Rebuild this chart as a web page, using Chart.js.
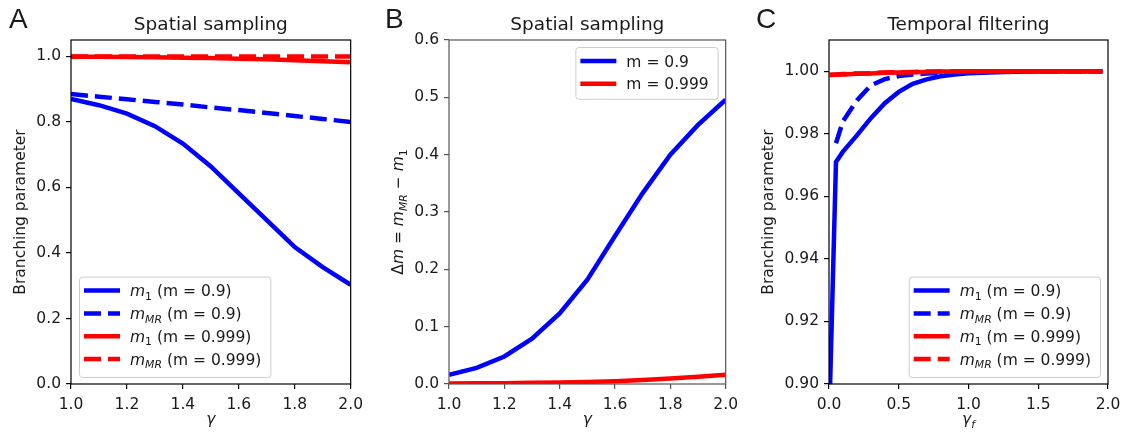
<!DOCTYPE html>
<html>
<head>
<meta charset="utf-8">
<script src="https://cdn.jsdelivr.net/npm/chart.js@4.4.1/dist/chart.umd.min.js"></script>
<style>
  body { margin: 0; background: #fff; width: 1128px; height: 434px; position: relative; overflow: hidden; }
  canvas { position: absolute; top: 0; }
</style>
</head>
<body>
<canvas id="chartA" width="370" height="434" style="left:0px"></canvas>
<canvas id="chartB" width="370" height="434" style="left:375px"></canvas>
<canvas id="chartC" width="378" height="434" style="left:750px"></canvas>
<script>
// Panel A / B: spatial sampling vs gamma
const gamma = [1.0, 1.1, 1.2, 1.3, 1.4, 1.5, 1.6, 1.7, 1.8, 1.9, 2.0];
const m1Low = [0.870, 0.851, 0.825, 0.787, 0.734, 0.664, 0.582, 0.500, 0.418, 0.357, 0.303];
const mmrLow = [0.885, 0.877, 0.869, 0.861, 0.853, 0.844, 0.836, 0.827, 0.818, 0.809, 0.800];
const m1High = [0.999, 0.999, 0.998, 0.997, 0.996, 0.995, 0.993, 0.991, 0.988, 0.985, 0.982];
const mmrHigh = [0.9995, 0.9995, 0.9995, 0.9995, 0.9995, 0.9995, 0.9995, 0.9995, 0.9995, 0.9995, 0.9995];
const deltaLow = [0.016, 0.028, 0.048, 0.079, 0.123, 0.182, 0.258, 0.333, 0.400, 0.452, 0.496];
const deltaHigh = [0.001, 0.0012, 0.0015, 0.002, 0.0027, 0.0036, 0.005, 0.007, 0.0095, 0.0125, 0.016];

// Panel C: temporal filtering vs gamma_f
const gammaF = [0.005, 0.05, 0.1, 0.2, 0.3, 0.4, 0.5, 0.6, 0.7, 0.8, 0.9, 1.0, 1.2, 1.4, 1.6, 1.8, 1.96];
const m1LowF = [0.895, 0.971, 0.9743, 0.9795, 0.985, 0.9898, 0.9934, 0.996, 0.9974, 0.9984, 0.999, 0.9994, 0.9997, 0.9999, 1.0, 1.0, 1.0];
const mmrLowF = [null, 0.977, 0.984, 0.9907, 0.9955, 0.9975, 0.9985, 0.999, 0.9993, 0.9995, 0.9997, 0.9998, 0.9999, 1.0, 1.0, 1.0, 1.0];
const m1HighF = [0.9988, 0.9989, 0.999, 0.9992, 0.9993, 0.9995, 0.9996, 0.9997, 0.9998, 0.9999, 0.9999, 1.0, 1.0, 1.0, 1.0, 1.0, 1.0];
const mmrHighF = [0.9989, 0.999, 0.9991, 0.9993, 0.9994, 0.9996, 0.9997, 0.9998, 0.9999, 0.9999, 1.0, 1.0, 1.0, 1.0, 1.0, 1.0, 1.0];

const FONT = '"DejaVu Sans", sans-serif';
const TXT = '#1a1a1a';
const BLUE = '#0000ff';
const RED = '#ff0000';
const DASH = [17, 7];
const FS = 15.5;

function pts(xs, ys) {
  return xs.map((x, i) => ({ x, y: ys[i] }));
}

// texto con cursiva y subíndices
function partFont(p, size) {
  const s = p.sub ? size * 0.7 : size;
  return (p.it ? 'italic ' : '') + s + 'px ' + FONT;
}
function richWidth(ctx, parts, size) {
  let w = 0;
  for (const p of parts) { ctx.font = partFont(p, size); w += ctx.measureText(p.t).width; }
  return w;
}
function drawRich(ctx, parts, x, y, size, align) {
  const w = richWidth(ctx, parts, size);
  let cx = align === 'center' ? x - w / 2 : x;
  ctx.textAlign = 'left';
  ctx.textBaseline = 'alphabetic';
  for (const p of parts) {
    ctx.font = partFont(p, size);
    ctx.fillText(p.t, cx, y + (p.sub ? size * 0.24 : 0));
    cx += ctx.measureText(p.t).width;
  }
}
function parseLabel(label) {
  const m = label.match(/^m_(\w+)(.*)$/);
  if (!m) return [{ t: label }];
  return [{ t: 'm', it: true }, { t: m[1], sub: true, it: m[1] !== '1' }, { t: m[2] }];
}

function drawLegend(chart, loc) {
  const { ctx, chartArea: a } = chart;
  const items = chart.data.datasets.map(d => ({
    parts: parseLabel(d.label), color: d.borderColor, dash: d.borderDash || []
  }));
  const hasSub = items.some(it => it.parts.length > 1);
  const tw = Math.max(...items.map(it => richWidth(ctx, it.parts, FS)));
  const w = 51 + tw + 9;
  const step = 22.8;
  const h = 14 + step * (items.length - 1) + (hasSub ? 18 : 15);
  const x = loc.includes('left') ? a.left + 8 : a.right - 8 - w;
  const y = loc.includes('upper') ? a.top + 7 : a.bottom - 7 - h;

  ctx.beginPath();
  ctx.roundRect(x + 0.5, y + 0.5, w, h, 3);
  ctx.fillStyle = 'rgba(255,255,255,0.8)';
  ctx.fill();
  ctx.strokeStyle = '#cccccc';
  ctx.lineWidth = 1;
  ctx.stroke();

  items.forEach((it, i) => {
    const ry = y + 14 + step * i;
    ctx.beginPath();
    ctx.strokeStyle = it.color;
    ctx.lineWidth = 4.5;
    ctx.lineCap = 'butt';
    ctx.setLineDash(it.dash);
    ctx.moveTo(x + 5, ry);
    ctx.lineTo(x + 41, ry);
    ctx.stroke();
    ctx.setLineDash([]);
    ctx.fillStyle = TXT;
    drawRich(ctx, it.parts, x + 51, ry + 5.5, FS, 'left');
  });
}

function decorPlugin(cfg) {
  return {
    id: 'decor',
    afterDatasetsDraw(chart) {
      const { ctx, chartArea: a } = chart;
      const cx = (a.left + a.right) / 2;
      ctx.save();
      ctx.strokeStyle = cfg.frame;
      ctx.lineWidth = 1.2;
      ctx.strokeRect(a.left, a.top, a.right - a.left, a.bottom - a.top);

      ctx.fillStyle = TXT;
      ctx.textAlign = 'left';
      ctx.textBaseline = 'alphabetic';
      ctx.font = '28px "Liberation Sans", sans-serif';
      ctx.fillText(cfg.letter, cfg.letterX, 28);

      ctx.font = '18.5px ' + FONT;
      ctx.textAlign = 'center';
      ctx.fillText(cfg.title, cx, 30);

      drawRich(ctx, cfg.xTitle, cx, 424, FS, 'center');

      ctx.save();
      ctx.translate(a.left - cfg.yTitleGap, (a.top + a.bottom) / 2);
      ctx.rotate(-Math.PI / 2);
      drawRich(ctx, cfg.yTitle, 0, 0, FS, 'center');
      ctx.restore();

      drawLegend(chart, cfg.legend);
      ctx.restore();
    }
  };
}

function axis(cfg, range, fixed, pad) {
  return {
    type: 'linear',
    min: range.min,
    max: range.max,
    ticks: {
      stepSize: range.step,
      includeBounds: false,
      maxRotation: 0,
      autoSkip: false,
      padding: pad,
      color: TXT,
      font: { family: 'DejaVu Sans', size: FS },
      callback: v => v.toFixed(range.dec)
    },
    grid: { drawOnChartArea: false, drawTicks: true, tickLength: 5, color: cfg.frame, lineWidth: 1.2 },
    border: { display: false },
    afterFit: fixed
  };
}

function makeChart(id, cfg) {
  return new Chart(document.getElementById(id), {
    type: 'line',
    data: { datasets: cfg.datasets },
    options: {
      responsive: false,
      animation: false,
      layout: { padding: { top: 40, right: cfg.padRight, left: 0, bottom: 0 } },
      plugins: { legend: { display: false }, tooltip: { enabled: false } },
      elements: { point: { radius: 0 }, line: { tension: 0, borderWidth: 4.5, borderCapStyle: 'butt' } },
      scales: {
        x: axis(cfg, cfg.x, s => { s.height = 50; }, 7),
        y: axis(cfg, cfg.y, s => { s.width = cfg.yWidth; }, 5)
      }
    },
    plugins: [decorPlugin(cfg)]
  });
}

const gammaTitle = [{ t: 'γ', it: true }];
const branching = [{ t: 'Branching parameter' }];

makeChart('chartA', {
  letter: 'A', letterX: 9, title: 'Spatial sampling', frame: '#000',
  yWidth: 71, padRight: 19, yTitleGap: 46,
  x: { min: 1, max: 2, step: 0.2, dec: 1 },
  y: { min: 0, max: 1.05, step: 0.2, dec: 1 },
  xTitle: gammaTitle, yTitle: branching, legend: 'lower left',
  datasets: [
    { label: 'm_1 (m = 0.9)', data: pts(gamma, m1Low), borderColor: BLUE, order: 3 },
    { label: 'm_MR (m = 0.9)', data: pts(gamma, mmrLow), borderColor: BLUE, borderDash: DASH, order: 2 },
    { label: 'm_1 (m = 0.999)', data: pts(gamma, m1High), borderColor: RED, order: 1 },
    { label: 'm_MR (m = 0.999)', data: pts(gamma, mmrHigh), borderColor: RED, borderDash: DASH, order: 0 }
  ]
});

makeChart('chartB', {
  letter: 'B', letterX: 10, title: 'Spatial sampling', frame: '#555',
  yWidth: 74, padRight: 16, yTitleGap: 46,
  x: { min: 1, max: 2, step: 0.2, dec: 1 },
  y: { min: 0, max: 0.6, step: 0.1, dec: 1 },
  xTitle: gammaTitle,
  yTitle: [
    { t: 'Δ' }, { t: 'm', it: true }, { t: ' = ' }, { t: 'm', it: true }, { t: 'MR', it: true, sub: true },
    { t: ' − ' }, { t: 'm', it: true }, { t: '1', sub: true }
  ],
  legend: 'upper right',
  datasets: [
    { label: 'm = 0.9', data: pts(gamma, deltaLow), borderColor: BLUE, order: 1 },
    { label: 'm = 0.999', data: pts(gamma, deltaHigh), borderColor: RED, order: 0 }
  ]
});

makeChart('chartC', {
  letter: 'C', letterX: 6, title: 'Temporal filtering', frame: '#000',
  yWidth: 79, padRight: 20, yTitleGap: 56,
  x: { min: 0, max: 2, step: 0.5, dec: 1 },
  y: { min: 0.9, max: 1.01, step: 0.02, dec: 2 },
  xTitle: [{ t: 'γ', it: true }, { t: 'f', it: true, sub: true }],
  yTitle: branching, legend: 'lower right',
  datasets: [
    { label: 'm_1 (m = 0.9)', data: pts(gammaF, m1LowF), borderColor: BLUE, order: 3 },
    { label: 'm_MR (m = 0.9)', data: pts(gammaF, mmrLowF), borderColor: BLUE, borderDash: DASH, order: 2 },
    { label: 'm_1 (m = 0.999)', data: pts(gammaF, m1HighF), borderColor: RED, order: 1 },
    { label: 'm_MR (m = 0.999)', data: pts(gammaF, mmrHighF), borderColor: RED, borderDash: DASH, order: 0 }
  ]
});
</script>
</body>
</html>
